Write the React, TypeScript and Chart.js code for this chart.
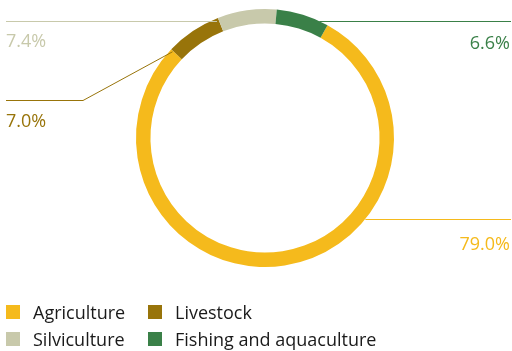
import React, { useEffect, useRef } from "react";
import { Chart, registerables } from "chart.js";

Chart.register(...registerables);

const CATEGORIES = ["Agriculture", "Livestock", "Silviculture", "Fishing and aquaculture"];
const VALUES = [79.0, 7.0, 7.4, 6.6];
const PERCENT_LABELS = ["79.0%", "7.0%", "7.4%", "6.6%"];
const COLORS = ["#F5BA1C", "#98740A", "#C8C9AB", "#3A8048"];

const FONT = "'Open Sans', Lato, sans-serif";

const leaderPlugin = {
  id: "leaders",
  afterDatasetsDraw(chart: any, _args: any, opts: any) {
    const ctx = chart.ctx;
    const meta = chart.getDatasetMeta(0);
    const arc = meta.data[0];
    if (!arc) return;
    const { x: cx, y: cy, outerRadius: R } = arc.getProps(["x", "y", "outerRadius"], true);
    const W = chart.width;
    (opts.items || []).forEach((it: any) => {
      const a = ((it.angle - 90) * Math.PI) / 180;
      const r = R * (it.r ?? 1);
      const ax = cx + r * Math.cos(a);
      const ay = cy + r * Math.sin(a);
      const color = COLORS[it.index];
      ctx.save();
      ctx.strokeStyle = color;
      ctx.lineWidth = 1;
      ctx.beginPath();
      let lineY: number;
      const edgeX = it.side === "left" ? opts.edge : W - 1;
      if (it.elbow) {
        lineY = Math.round(it.elbow.y) + 0.5;
        ctx.moveTo(ax, ay);
        ctx.lineTo(it.elbow.x, lineY);
        ctx.lineTo(edgeX, lineY);
      } else {
        lineY = Math.round(ay) + 0.5;
        ctx.moveTo(ax, lineY);
        ctx.lineTo(edgeX, lineY);
      }
      ctx.stroke();
      ctx.fillStyle = color;
      ctx.font = `${opts.fontSize}px ${FONT}`;
      ctx.textBaseline = "middle";
      ctx.textAlign = it.side === "left" ? "left" : "right";
      ctx.fillText(PERCENT_LABELS[it.index], it.side === "left" ? opts.edge : W - 2, lineY + it.textDy);
      ctx.restore();
    });
  },
};

export default function App() {
  const ref = useRef<HTMLCanvasElement | null>(null);
  useEffect(() => {
    document.body.style.margin = "0";
    const chart = new Chart(ref.current as HTMLCanvasElement, {
      type: "doughnut",
      data: {
        labels: CATEGORIES,
        datasets: [
          {
            data: VALUES,
            backgroundColor: COLORS,
            borderWidth: 0,
            hoverOffset: 0,
          },
        ],
      },
      options: {
        responsive: false,
        animation: false,
        cutout: "88.8%",
        rotation: 29,
        layout: { padding: { left: 136, right: 118, top: 9, bottom: 84 } },
        plugins: {
          legend: { display: false },
          tooltip: { enabled: false },
          leaders: {
            edge: 6,
            fontSize: 18,
            items: [
              { index: 0, angle: 128.9, side: "right", textDy: 25 },
              { index: 1, angle: -47, r: 0.98, side: "left", elbow: { x: 83, y: 100 }, textDy: 21 },
              { index: 2, angle: -22.3, r: 0.98, side: "left", textDy: 20 },
              { index: 3, angle: 24.9, side: "right", textDy: 22 },
            ],
          },
        } as any,
      },
      plugins: [leaderPlugin],
    });
    return () => chart.destroy();
  }, []);

  const order = [0, 1, 2, 3];
  return (
    <div style={{ position: "relative", width: 512, height: 351, background: "#fff", fontFamily: FONT }}>
      <canvas ref={ref} width={512} height={351} style={{ position: "absolute", left: 0, top: 0 }} />
      <div
        style={{
          position: "absolute",
          left: 6,
          top: 298,
          display: "grid",
          gridTemplateColumns: "142px auto",
        }}
      >
        {order.map((i) => (
          <div key={i} style={{ display: "flex", alignItems: "center", height: 27 }}>
            <span style={{ width: 14, height: 14, background: COLORS[i], marginRight: 13, flex: "none" }} />
            <span style={{ fontSize: 18, color: "#1a1a1a", whiteSpace: "nowrap" }}>{CATEGORIES[i]}</span>
          </div>
        ))}
      </div>
    </div>
  );
}
